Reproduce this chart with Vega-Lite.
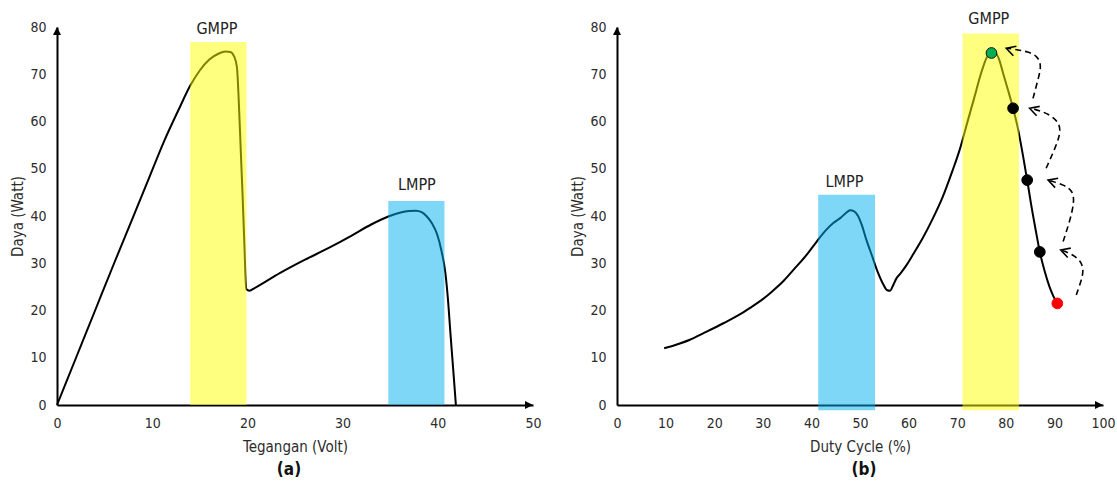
{
  "$schema": "https://vega.github.io/schema/vega-lite/v6.json",
  "background": "white",
  "padding": {"left": 10, "top": 10, "right": 10, "bottom": 4},
  "spacing": 84,
  "bounds": "flush",
  "config": {
    "view": {"stroke": null},
    "font": "DejaVu Sans Condensed, Liberation Sans, sans-serif",
    "axis": {
      "grid": false, "ticks": false, "tickSize": 0,
      "domainColor": "black", "domainWidth": 2,
      "labelFontSize": 14, "titleFontSize": 15,
      "labelColor": "#2b2b2b", "titleColor": "#2b2b2b",
      "titleFontWeight": "normal",
      "labelFlush": false,
      "labelFont": "DejaVu Sans Condensed, Liberation Sans, sans-serif",
      "titleFont": "DejaVu Sans Condensed, Liberation Sans, sans-serif"
    },
    "axisX": {"labelPadding": 11, "titlePadding": 9},
    "axisY": {"labelPadding": 11, "titlePadding": 4},
    "title": {"font": "DejaVu Sans Condensed, Liberation Sans, sans-serif"}
  },
  "datasets": {
    "curveA": [
      {"x":0,"y":0},{"x":2,"y":10},{"x":4,"y":20},{"x":6,"y":30},{"x":8,"y":39.8},{"x":9.5,"y":47.2},{"x":11.2,"y":55.6},{"x":12.8,"y":62.6},{"x":14,"y":67.6},{"x":15,"y":70.8},{"x":16,"y":73.1},{"x":17,"y":74.4},{"x":17.7,"y":74.8},{"x":18.2,"y":74.7},{"x":18.6,"y":73.8},{"x":18.9,"y":71.5},{"x":19.1,"y":64},{"x":19.3,"y":54},{"x":19.5,"y":44},{"x":19.7,"y":33},{"x":19.8,"y":27},{"x":19.9,"y":24.5},{"x":20.2,"y":24.2},{"x":20.8,"y":24.8},{"x":23.4,"y":27.9},{"x":26,"y":30.7},{"x":28.7,"y":33.4},{"x":31,"y":35.9},{"x":33,"y":38.2},{"x":34.8,"y":39.9},{"x":36,"y":40.7},{"x":37,"y":41.05},{"x":37.7,"y":41.1},{"x":38.3,"y":40.8},{"x":38.8,"y":40},{"x":39.4,"y":38.4},{"x":39.9,"y":36.3},{"x":40.4,"y":32.5},{"x":40.8,"y":27.9},{"x":41.1,"y":21.5},{"x":41.3,"y":15.9},{"x":41.6,"y":8},{"x":41.9,"y":0}
    ],
    "bandsA": [
      {"zone":"GMPP","x":14,"xe":19.9,"y":0,"ye":76.8},
      {"zone":"LMPP","x":34.8,"xe":40.7,"y":0,"ye":43.2}
    ],
    "labelsA": [
      {"label":"GMPP","x":16.8,"y":79.6},
      {"label":"LMPP","x":37.8,"y":46.6}
    ],
    "axisA": [
      {"dir":"right","x":50,"y":0},
      {"dir":"up","x":0,"y":80}
    ],
    "curveB": [
      {"x":9.7,"y":12},{"x":12,"y":12.7},{"x":15,"y":13.8},{"x":18,"y":15.3},{"x":21.9,"y":17.3},{"x":25,"y":19},{"x":27.3,"y":20.5},{"x":30,"y":22.4},{"x":32.1,"y":24.2},{"x":34.3,"y":26.3},{"x":36.3,"y":28.6},{"x":38.8,"y":31.5},{"x":41.1,"y":34.6},{"x":43,"y":37},{"x":44.5,"y":38.5},{"x":46,"y":39.6},{"x":47.3,"y":40.8},{"x":48,"y":41.2},{"x":48.8,"y":41},{"x":49.6,"y":40},{"x":50.4,"y":38},{"x":51.3,"y":35},{"x":52.5,"y":31.5},{"x":53.7,"y":28},{"x":54.8,"y":25.5},{"x":55.6,"y":24.3},{"x":56.2,"y":24.2},{"x":56.8,"y":25.3},{"x":57.5,"y":26.8},{"x":58.3,"y":27.8},{"x":59.5,"y":29.5},{"x":61,"y":32},{"x":63,"y":35.5},{"x":65,"y":39.5},{"x":67,"y":44},{"x":69,"y":49.5},{"x":70.5,"y":54},{"x":72,"y":59.5},{"x":73.5,"y":65},{"x":75,"y":70.5},{"x":76.2,"y":73.8},{"x":77.05,"y":74.6},{"x":77.8,"y":74.6},{"x":78.6,"y":73.2},{"x":79.5,"y":70},{"x":80.5,"y":66.5},{"x":81.5,"y":62.8},{"x":82.5,"y":58.5},{"x":83.5,"y":53},{"x":84.4,"y":47.6},{"x":85.2,"y":42.5},{"x":86.1,"y":37.3},{"x":87,"y":32.4},{"x":88,"y":28.3},{"x":89,"y":25},{"x":89.8,"y":23},{"x":90.6,"y":21.5}
    ],
    "bandsB": [
      {"zone":"LMPP","x":41.4,"xe":53.1,"y":-1.1,"ye":44.5},
      {"zone":"GMPP","x":71.1,"xe":82.7,"y":-1.1,"ye":78.6}
    ],
    "labelsB": [
      {"label":"GMPP","x":76.5,"y":81.7},
      {"label":"LMPP","x":46.8,"y":47.3}
    ],
    "pointsB": [
      {"kind":"peak","x":77.05,"y":74.5},
      {"kind":"step","x":81.5,"y":62.8},
      {"kind":"step","x":84.4,"y":47.6},
      {"kind":"step","x":87,"y":32.4},
      {"kind":"start","x":90.6,"y":21.5}
    ],
    "arrowsB": [
      {"a":1,"o":1,"x":94.5,"y":23.3},{"a":1,"o":2,"x":95.6,"y":26.5},{"a":1,"o":3,"x":96,"y":28.5},{"a":1,"o":4,"x":95.5,"y":30.5},{"a":1,"o":5,"x":93.5,"y":32},{"a":1,"o":6,"x":91.6,"y":32.7},
      {"a":2,"o":1,"x":91.8,"y":34.6},{"a":2,"o":2,"x":93.2,"y":39},{"a":2,"o":3,"x":94.1,"y":43},{"a":2,"o":4,"x":93.8,"y":45.3},{"a":2,"o":5,"x":92,"y":46.6},{"a":2,"o":6,"x":89,"y":47.5},
      {"a":3,"o":1,"x":88.3,"y":50.1},{"a":3,"o":2,"x":90,"y":54},{"a":3,"o":3,"x":91.3,"y":57.5},{"a":3,"o":4,"x":91,"y":59.7},{"a":3,"o":5,"x":89.3,"y":61.3},{"a":3,"o":6,"x":87,"y":62.3},{"a":3,"o":7,"x":85.2,"y":62.8},
      {"a":4,"o":1,"x":85.6,"y":64.9},{"a":4,"o":2,"x":86.8,"y":69.5},{"a":4,"o":3,"x":87.3,"y":71.8},{"a":4,"o":4,"x":86.6,"y":73.8},{"a":4,"o":5,"x":84.5,"y":74.8},{"a":4,"o":6,"x":82.2,"y":75.2},{"a":4,"o":7,"x":80.4,"y":75.5}
    ],
    "headsB": [
      {"x":91.3,"y":32.8},
      {"x":88.7,"y":47.6},
      {"x":84.9,"y":62.8},
      {"x":80.1,"y":75.5}
    ],
    "axisB": [
      {"dir":"right","x":100,"y":0},
      {"dir":"up","x":0,"y":80}
    ]
  },
  "hconcat": [
    {
      "width": 476,
      "height": 378,
      "title": {"text": "(a)", "orient": "bottom", "anchor": "middle", "fontSize": 17, "fontWeight": "bold", "color": "#111111", "offset": 8, "dx": -6},
      "layer": [
        {
          "data": {"name": "curveA"},
          "mark": {"type": "line", "color": "black", "strokeWidth": 2, "interpolate": "monotone"},
          "encoding": {
            "x": {"field": "x", "type": "quantitative", "scale": {"domain": [0, 50]}, "axis": {"title": "Tegangan (Volt)", "values": [0, 10, 20, 30, 40, 50]}},
            "y": {"field": "y", "type": "quantitative", "scale": {"domain": [0, 80]}, "axis": {"title": "Daya (Watt)", "values": [0, 10, 20, 30, 40, 50, 60, 70, 80]}}
          }
        },
        {
          "data": {"name": "bandsA"},
          "mark": {"type": "rect", "opacity": 0.5},
          "encoding": {
            "x": {"field": "x", "type": "quantitative"},
            "x2": {"field": "xe"},
            "y": {"field": "y", "type": "quantitative"},
            "y2": {"field": "ye"},
            "color": {"field": "zone", "type": "nominal", "scale": {"domain": ["GMPP", "LMPP"], "range": ["#FFFF00", "#00B0F0"]}, "legend": null}
          }
        },
        {
          "data": {"name": "labelsA"},
          "mark": {"type": "text", "fontSize": 16, "color": "#222222", "baseline": "middle", "align": "center"},
          "encoding": {
            "x": {"field": "x", "type": "quantitative"},
            "y": {"field": "y", "type": "quantitative"},
            "text": {"field": "label"}
          }
        },
        {
          "data": {"name": "axisA"},
          "mark": {"type": "point", "filled": true, "color": "black", "opacity": 1, "size": 256},
          "encoding": {
            "x": {"field": "x", "type": "quantitative"},
            "y": {"field": "y", "type": "quantitative"},
            "shape": {"field": "dir", "type": "nominal", "scale": {"domain": ["right", "up"], "range": ["M0,0 L-1,-0.5 L-1,0.5 Z", "M0,0 L-0.5,1 L0.5,1 Z"]}, "legend": null}
          }
        }
      ]
    },
    {
      "width": 486,
      "height": 378,
      "title": {"text": "(b)", "orient": "bottom", "anchor": "middle", "fontSize": 17, "fontWeight": "bold", "color": "#111111", "offset": 8, "dx": 4},
      "layer": [
        {
          "data": {"name": "curveB"},
          "mark": {"type": "line", "color": "black", "strokeWidth": 2, "interpolate": "monotone"},
          "encoding": {
            "x": {"field": "x", "type": "quantitative", "scale": {"domain": [0, 100]}, "axis": {"title": "Duty Cycle (%)", "values": [0, 10, 20, 30, 40, 50, 60, 70, 80, 90, 100]}},
            "y": {"field": "y", "type": "quantitative", "scale": {"domain": [0, 80]}, "axis": {"title": "Daya (Watt)", "values": [0, 10, 20, 30, 40, 50, 60, 70, 80]}}
          }
        },
        {
          "data": {"name": "bandsB"},
          "mark": {"type": "rect", "opacity": 0.5},
          "encoding": {
            "x": {"field": "x", "type": "quantitative"},
            "x2": {"field": "xe"},
            "y": {"field": "y", "type": "quantitative"},
            "y2": {"field": "ye"},
            "color": {"field": "zone", "type": "nominal", "scale": {"domain": ["GMPP", "LMPP"], "range": ["#FFFF00", "#00B0F0"]}, "legend": null}
          }
        },
        {
          "data": {"name": "labelsB"},
          "mark": {"type": "text", "fontSize": 16, "color": "#222222", "baseline": "middle", "align": "center"},
          "encoding": {
            "x": {"field": "x", "type": "quantitative"},
            "y": {"field": "y", "type": "quantitative"},
            "text": {"field": "label"}
          }
        },
        {
          "data": {"name": "arrowsB"},
          "mark": {"type": "line", "color": "black", "strokeWidth": 1.6, "strokeDash": [6, 4], "interpolate": "basis"},
          "encoding": {
            "x": {"field": "x", "type": "quantitative"},
            "y": {"field": "y", "type": "quantitative"},
            "detail": {"field": "a", "type": "nominal"},
            "order": {"field": "o", "type": "quantitative"}
          }
        },
        {
          "data": {"name": "headsB"},
          "mark": {"type": "point", "filled": false, "color": "black", "strokeWidth": 1.6, "opacity": 1, "size": 324, "angle": 18, "shape": "M1,-0.55 L0,0 L1,0.55"},
          "encoding": {
            "x": {"field": "x", "type": "quantitative"},
            "y": {"field": "y", "type": "quantitative"}
          }
        },
        {
          "data": {"name": "pointsB"},
          "mark": {"type": "point", "filled": true, "opacity": 1, "size": 115, "strokeWidth": 1},
          "encoding": {
            "x": {"field": "x", "type": "quantitative"},
            "y": {"field": "y", "type": "quantitative"},
            "fill": {"field": "kind", "type": "nominal", "scale": {"domain": ["peak", "step", "start"], "range": ["#00B050", "#000000", "#FF0000"]}, "legend": null},
            "stroke": {"field": "kind", "type": "nominal", "scale": {"domain": ["peak", "step", "start"], "range": ["#1A1A1A", "#000000", "#FF0000"]}, "legend": null}
          }
        },
        {
          "data": {"name": "axisB"},
          "mark": {"type": "point", "filled": true, "color": "black", "opacity": 1, "size": 256},
          "encoding": {
            "x": {"field": "x", "type": "quantitative"},
            "y": {"field": "y", "type": "quantitative"},
            "shape": {"field": "dir", "type": "nominal", "scale": {"domain": ["right", "up"], "range": ["M0,0 L-1,-0.5 L-1,0.5 Z", "M0,0 L-0.5,1 L0.5,1 Z"]}, "legend": null}
          }
        }
      ]
    }
  ]
}
